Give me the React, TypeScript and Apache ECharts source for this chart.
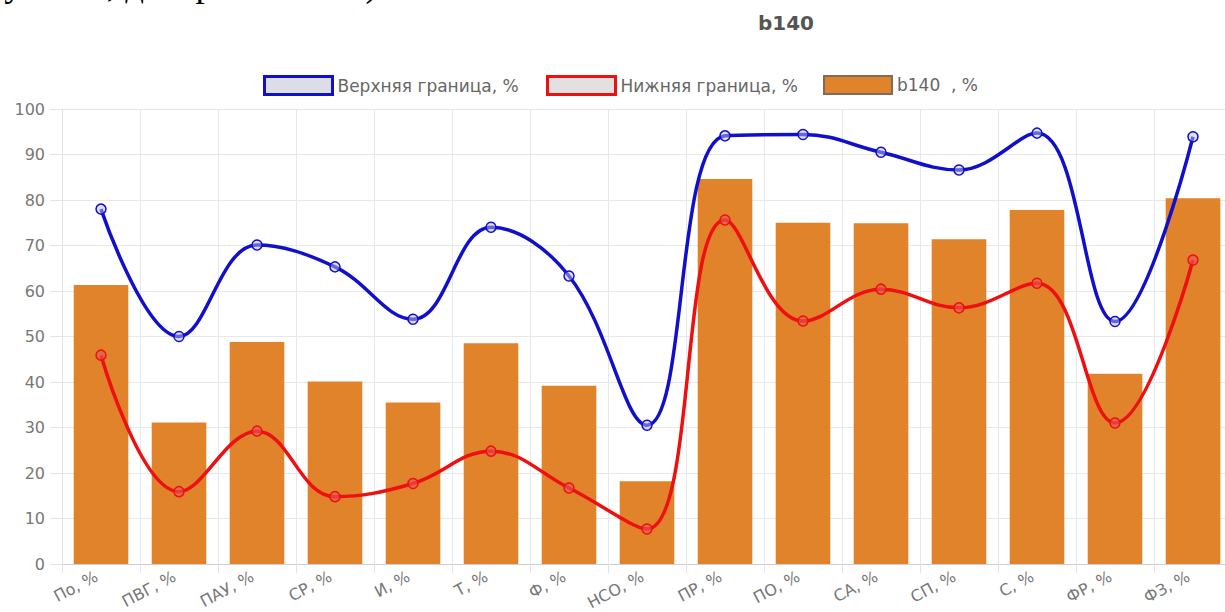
import React, { useEffect, useRef } from "react";
import * as echarts from "echarts";

const categories = ["По, %", "ПВГ, %", "ПАУ, %", "СР, %", "И, %", "Т, %", "Ф, %", "НСО, %", "ПР, %", "ПО, %", "СА, %", "СП, %", "С, %", "ФР, %", "ФЗ, %"];
const upperBound = [78, 50, 70.1, 65.3, 53.8, 74, 63.3, 30.5, 94.1, 94.4, 90.5, 86.6, 94.7, 53.3, 93.9];
const lowerBound = [45.9, 15.9, 29.2, 14.8, 17.7, 24.8, 16.7, 7.7, 75.6, 53.4, 60.4, 56.3, 61.7, 31, 66.8];
const b140 = [61.3, 31.1, 48.8, 40.1, 35.5, 48.5, 39.2, 18.2, 84.6, 75, 74.9, 71.4, 77.8, 41.8, 80.4];
const seriesNames = ["Верхняя граница, %", "Нижняя граница, %", "b140  , %"];
const titleText = "b140";
const captionStart = "рисунок 5, диаграмма";
const captionEnd = "5).";

const BLUE = "#1010cc";
const RED = "#ee1010";
const ORANGE = "#e0832b";
const FONT = '"DejaVu Sans", Verdana, sans-serif';
const SERIF = '37px "Liberation Serif", "Times New Roman", serif';

export default function App() {
  const ref = useRef<HTMLDivElement>(null);
  useEffect(() => {
    if (!ref.current) return;
    const chart = echarts.init(ref.current, null, { renderer: "svg" });
    const legendText = { color: "#666", fontSize: 17, fontFamily: FONT };
    const legendBase = { top: 70, itemWidth: 68, itemHeight: 18, textStyle: legendText };
    chart.setOption({
      animation: false,
      backgroundColor: "#ffffff",
      graphic: [
        {
          type: "text",
          x: -50,
          y: -17,
          style: { text: captionStart, font: SERIF, fill: "#000", verticalAlign: "middle" },
        },
        {
          type: "text",
          x: 347,
          y: -17,
          style: { text: captionEnd, font: SERIF, fill: "#000", verticalAlign: "middle" },
        },
        {
          type: "text",
          x: 786,
          y: 23,
          style: {
            text: titleText,
            font: 'bold 20px "DejaVu Sans", sans-serif',
            fill: "#555",
            align: "center",
            verticalAlign: "middle",
          },
        },
      ],
      legend: [
        {
          ...legendBase,
          left: 258,
          data: [{ name: seriesNames[0], icon: "rect", itemStyle: { color: "#dcdde6", borderColor: BLUE, borderWidth: 3 } }],
        },
        {
          ...legendBase,
          left: 541,
          data: [{ name: seriesNames[1], icon: "rect", itemStyle: { color: "#e4dfe0", borderColor: RED, borderWidth: 3 } }],
        },
        {
          ...legendBase,
          left: 818,
          data: [{ name: seriesNames[2], icon: "rect", itemStyle: { color: ORANGE, borderColor: "#7d6c5c", borderWidth: 2 } }],
        },
      ],
      grid: { left: 62, top: 109, width: 1170, height: 455, containLabel: false, outerBoundsMode: "none" },
      xAxis: {
        type: "category",
        data: categories,
        boundaryGap: true,
        axisLine: { show: true, lineStyle: { color: "#c9ced8", width: 1 } },
        axisTick: { show: true, length: 9, lineStyle: { color: "#dfe4ec" } },
        splitLine: { show: true, lineStyle: { color: "#e4e8ef", width: 1 } },
        axisLabel: {
          rotate: 28,
          margin: 9,
          padding: [0, 5, 0, 0],
          color: "#777",
          fontSize: 16,
          fontFamily: FONT,
          interval: 0,
        },
      },
      yAxis: {
        type: "value",
        min: 0,
        max: 100,
        interval: 10,
        axisLine: { show: true, lineStyle: { color: "#dfe4ec" } },
        axisTick: { show: true, length: 12, lineStyle: { color: "#e4e4e4" } },
        splitLine: { show: true, lineStyle: { color: "#e8e8e8", width: 1 } },
        axisLabel: { margin: 17, color: "#777", fontSize: 16, fontFamily: FONT },
      },
      series: [
        {
          name: seriesNames[0],
          type: "line",
          data: upperBound,
          smooth: 0.4,
          z: 4,
          symbol: "circle",
          symbolSize: 10,
          lineStyle: { color: BLUE, width: 3.5 },
          itemStyle: { color: "rgba(190,190,235,0.5)", borderColor: BLUE, borderWidth: 1.5 },
        },
        {
          name: seriesNames[1],
          type: "line",
          data: lowerBound,
          smooth: 0.4,
          z: 4,
          symbol: "circle",
          symbolSize: 10,
          lineStyle: { color: RED, width: 3.5 },
          itemStyle: { color: "rgba(230,90,90,0.6)", borderColor: RED, borderWidth: 1.5 },
        },
        {
          name: seriesNames[2],
          type: "bar",
          data: b140,
          z: 2,
          barCategoryGap: "30%",
          itemStyle: { color: ORANGE },
        },
      ],
    });
    return () => chart.dispose();
  }, []);
  return (
    <div
      ref={ref}
      style={{ position: "fixed", left: 0, top: 0, width: 1225, height: 612, background: "#fff" }}
    />
  );
}
